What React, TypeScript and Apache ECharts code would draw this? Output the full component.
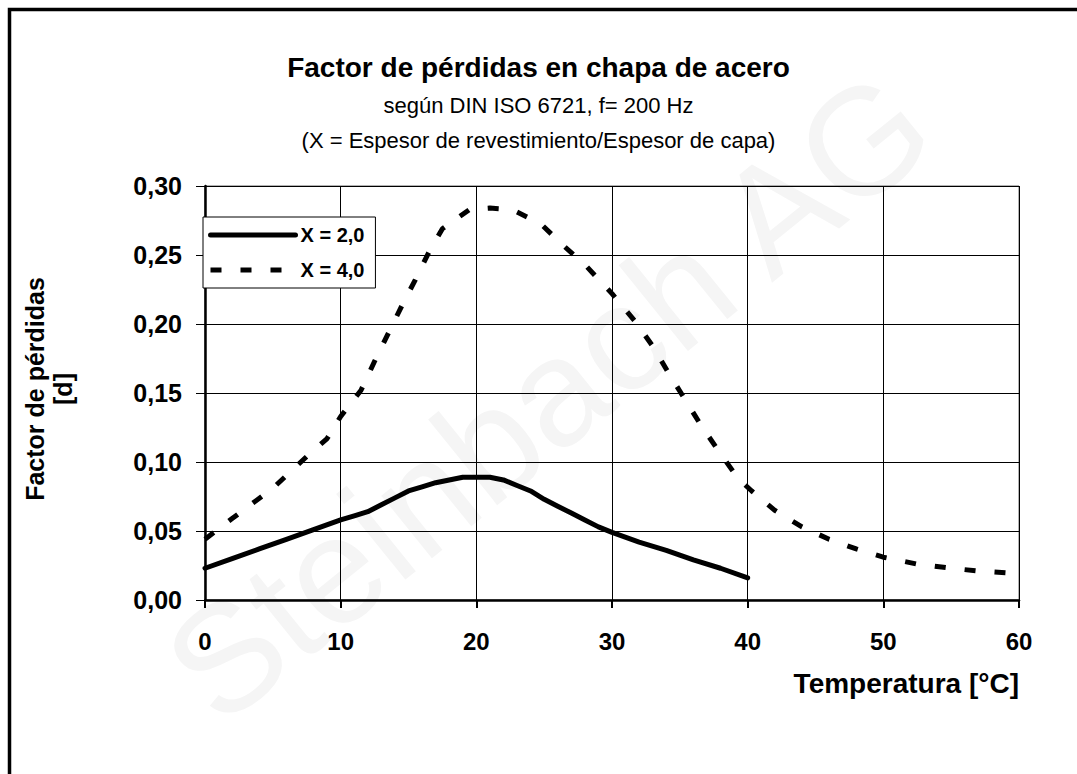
import React, { useEffect, useRef } from "react";
import * as echarts from "echarts";

const titleText = "Factor de pérdidas en chapa de acero";
const subText = "según DIN ISO 6721, f= 200 Hz\n(X = Espesor de revestimiento/Espesor de capa)";
const xAxisName = "Temperatura [°C]";
const yAxisName = "Factor de pérdidas\n[d]";
const watermark = "Steinbach AG";

const seriesNames = ["X = 2,0", "X = 4,0"];

const x2 = [0, 2, 4, 6, 8, 10, 11, 12, 13, 14, 15, 16, 17, 18, 19, 20, 21, 22, 23, 24, 25, 26, 27, 28, 29, 30, 32, 34, 36, 38, 40];
const y2 = [0.023, 0.030, 0.037, 0.044, 0.051, 0.058, 0.061, 0.064, 0.069, 0.074, 0.079, 0.082, 0.085, 0.087, 0.089, 0.089, 0.089, 0.087, 0.083, 0.079, 0.073, 0.068, 0.063, 0.058, 0.053, 0.049, 0.042, 0.036, 0.029, 0.023, 0.016];

const x4 = [0, 2, 5, 7.5, 9, 10, 11.5, 12.5, 13.5, 14.5, 15.5, 16.5, 17.5, 19.5, 21, 22.6, 24.7, 26.4, 28.1, 30, 31.7, 33, 34.2, 35.4, 36.6, 38, 39.3, 40.3, 42, 44, 46, 48, 50, 52.5, 55, 57, 60];
const y4 = [0.044, 0.059, 0.081, 0.104, 0.117, 0.133, 0.152, 0.173, 0.193, 0.213, 0.232, 0.252, 0.269, 0.283, 0.284, 0.283, 0.273, 0.257, 0.242, 0.222, 0.202, 0.184, 0.164, 0.145, 0.126, 0.106, 0.088, 0.079, 0.065, 0.053, 0.044, 0.037, 0.031, 0.026, 0.023, 0.021, 0.019];

const FONT = "'Liberation Sans', Arial, sans-serif";

export default function App() {
  const ref = useRef<HTMLDivElement>(null);
  useEffect(() => {
    if (!ref.current) return;
    const chart = echarts.init(ref.current, undefined, { renderer: "svg" });
    const fmt = (v: number) => v.toFixed(2).replace(".", ",");
    chart.setOption({
      animation: false,
      backgroundColor: "#ffffff",
      title: {
        text: titleText,
        subtext: subText,
        left: "center",
        top: 47,
        itemGap: 6,
        textStyle: { fontFamily: FONT, fontWeight: "bold", fontSize: 28, color: "#000", lineHeight: 30 },
        subtextStyle: { fontFamily: FONT, fontSize: 22, color: "#000", lineHeight: 35 },
      },
      graphic: [
        {
          type: "text",
          z: -10,
          x: 548,
          y: 396,
          rotation: (39 * Math.PI) / 180,
          style: {
            text: watermark,
            font: `152px ${FONT}`,
            fill: "#f5f5f5",
            align: "center",
            verticalAlign: "middle",
          },
        },
        {
          type: "polyline",
          z: 10,
          shape: { points: [[1077, 9.5], [9.5, 9.5], [9.5, 774]] },
          style: { stroke: "#000", lineWidth: 3.5, fill: "none" },
        },
      ],
      legend: {
        orient: "vertical",
        left: 203,
        top: 217,
        padding: [8, 11, 8, 5],
        itemWidth: 85,
        itemHeight: 14,
        itemGap: 15,
        backgroundColor: "#fff",
        borderColor: "#000",
        borderWidth: 1,
        itemStyle: { opacity: 0 },
        lineStyle: { width: 5 },
        textStyle: { fontFamily: FONT, fontWeight: "bold", fontSize: 20, color: "#000" },
        data: seriesNames,
      },
      grid: {
        left: 205,
        right: 58,
        top: 186,
        bottom: 174,
        show: true,
        borderColor: "#666",
        borderWidth: 1,
      },
      xAxis: {
        type: "value",
        min: 0,
        max: 60,
        interval: 10,
        name: xAxisName,
        nameLocation: "end",
        nameGap: 0,
        nameTextStyle: {
          fontFamily: FONT,
          fontWeight: "bold",
          fontSize: 28,
          color: "#000",
          align: "right",
          verticalAlign: "top",
          padding: [69, 0, 0, 0],
        },
        axisLine: { lineStyle: { color: "#000", width: 2.5 } },
        axisTick: { show: true, inside: false, length: 8, lineStyle: { color: "#000", width: 2 } },
        axisLabel: { margin: 29, fontFamily: FONT, fontWeight: "bold", fontSize: 24, color: "#000" },
        splitLine: { show: true, lineStyle: { color: "#000", width: 1 } },
      },
      yAxis: {
        type: "value",
        min: 0,
        max: 0.3,
        interval: 0.05,
        name: yAxisName,
        nameLocation: "middle",
        nameGap: 128,
        nameTextStyle: { fontFamily: FONT, fontWeight: "bold", fontSize: 25, color: "#000", lineHeight: 28, padding: [0, 0, 0, 8] },
        axisLine: { show: true, lineStyle: { color: "#000", width: 2.5 } },
        axisTick: { show: true, inside: false, length: 9, lineStyle: { color: "#000", width: 1 } },
        axisLabel: { margin: 23, fontFamily: FONT, fontWeight: "bold", fontSize: 25, color: "#000", formatter: fmt },
        splitLine: { show: true, lineStyle: { color: "#000", width: 1 } },
      },
      series: [
        {
          name: seriesNames[0],
          type: "line",
          showSymbol: false,
          symbol: "none",
          data: x2.map((x, i) => [x, y2[i]]),
          lineStyle: { color: "#000", width: 5, cap: "round", join: "round" },
          itemStyle: { color: "#000" },
          z: 3,
        },
        {
          name: seriesNames[1],
          type: "line",
          showSymbol: false,
          symbol: "none",
          data: x4.map((x, i) => [x, y4[i]]),
          lineStyle: { color: "#000", width: 5, type: [11, 19], cap: "butt" },
          itemStyle: { color: "#000" },
          z: 3,
        },
      ],
    });
    return () => chart.dispose();
  }, []);
  return (
    <div
      ref={ref}
      style={{ position: "fixed", left: 0, top: 0, width: 1077, height: 774 }}
    />
  );
}
